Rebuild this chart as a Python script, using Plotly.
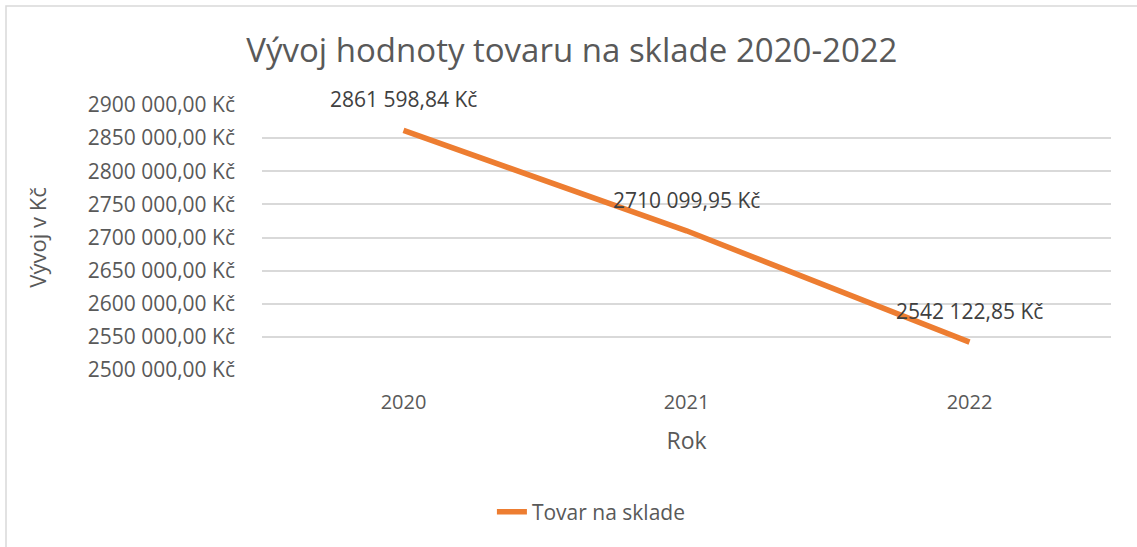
import plotly.graph_objects as go

years = ["2020", "2021", "2022"]
values = [2861598.84, 2710099.95, 2542122.85]
value_labels = ["2861 598,84 Kč", "2710 099,95 Kč", "2542 122,85 Kč"]
tick_vals = [2500000, 2550000, 2600000, 2650000, 2700000, 2750000, 2800000, 2850000, 2900000]
tick_text = ["2500 000,00 Kč", "2550 000,00 Kč", "2600 000,00 Kč", "2650 000,00 Kč",
             "2700 000,00 Kč", "2750 000,00 Kč", "2800 000,00 Kč", "2850 000,00 Kč",
             "2900 000,00 Kč"]

FONT = "Open Sans"
GRAY = "#595959"

fig = go.Figure()
fig.add_trace(go.Scatter(
    x=years, y=values, mode="lines", name="Tovar na sklade",
    line=dict(color="#ED7D31", width=5.5),
))

for i, (y, t) in enumerate(zip(values, value_labels)):
    fig.add_annotation(x=i, y=y, text=t, showarrow=False, yshift=31,
                       font=dict(family=FONT, size=21, color="#404040"))

L, R, T, B = 262, 1111, 105, 370
W, H = 1137, 547
pw, ph = R - L, B - T
fig.add_shape(type="rect", xref="paper", yref="paper",
              x0=(6 - L) / pw, x1=(W + 5 - L) / pw,
              y0=(B - (H + 5)) / ph, y1=(B - 6) / ph,
              line=dict(color="#D9D9D9", width=1.5), fillcolor="rgba(0,0,0,0)", layer="below")

fig.update_layout(
    width=W, height=H,
    margin=dict(l=L, r=W - R, t=T, b=H - B),
    paper_bgcolor="white", plot_bgcolor="white",
    font=dict(family=FONT, color=GRAY),
    title=dict(text="Vývoj hodnoty tovaru na sklade 2020-2022", x=0.503, xanchor="center",
               y=1 - 50 / H, yanchor="middle",
               font=dict(family=FONT, size=33, color=GRAY)),
    xaxis=dict(type="category", range=[-0.5, 2.5], showgrid=False, zeroline=False,
               showline=False, ticks="", tickfont=dict(size=20, color=GRAY),
               ticklabelstandoff=18,
               title=dict(text="Rok", font=dict(size=23, color=GRAY), standoff=18)),
    yaxis=dict(range=[2500000, 2900000], tickvals=tick_vals, ticktext=tick_text,
               showgrid=True, gridcolor="#D9D9D9", gridwidth=1.5, zeroline=False,
               showline=False, ticks="", tickfont=dict(size=21, color=GRAY),
               ticklabelstandoff=26,
               title=dict(text="Vývoj v Kč", font=dict(size=22, color=GRAY), standoff=34)),
    showlegend=True,
    legend=dict(orientation="h", x=0.388, xanchor="center", y=(B - 512) / ph, yanchor="middle",
                font=dict(size=21, color=GRAY)),
)

fig.write_html("out.html", config={"displayModeBar": False},
               post_script="document.body.style.margin='0';")
